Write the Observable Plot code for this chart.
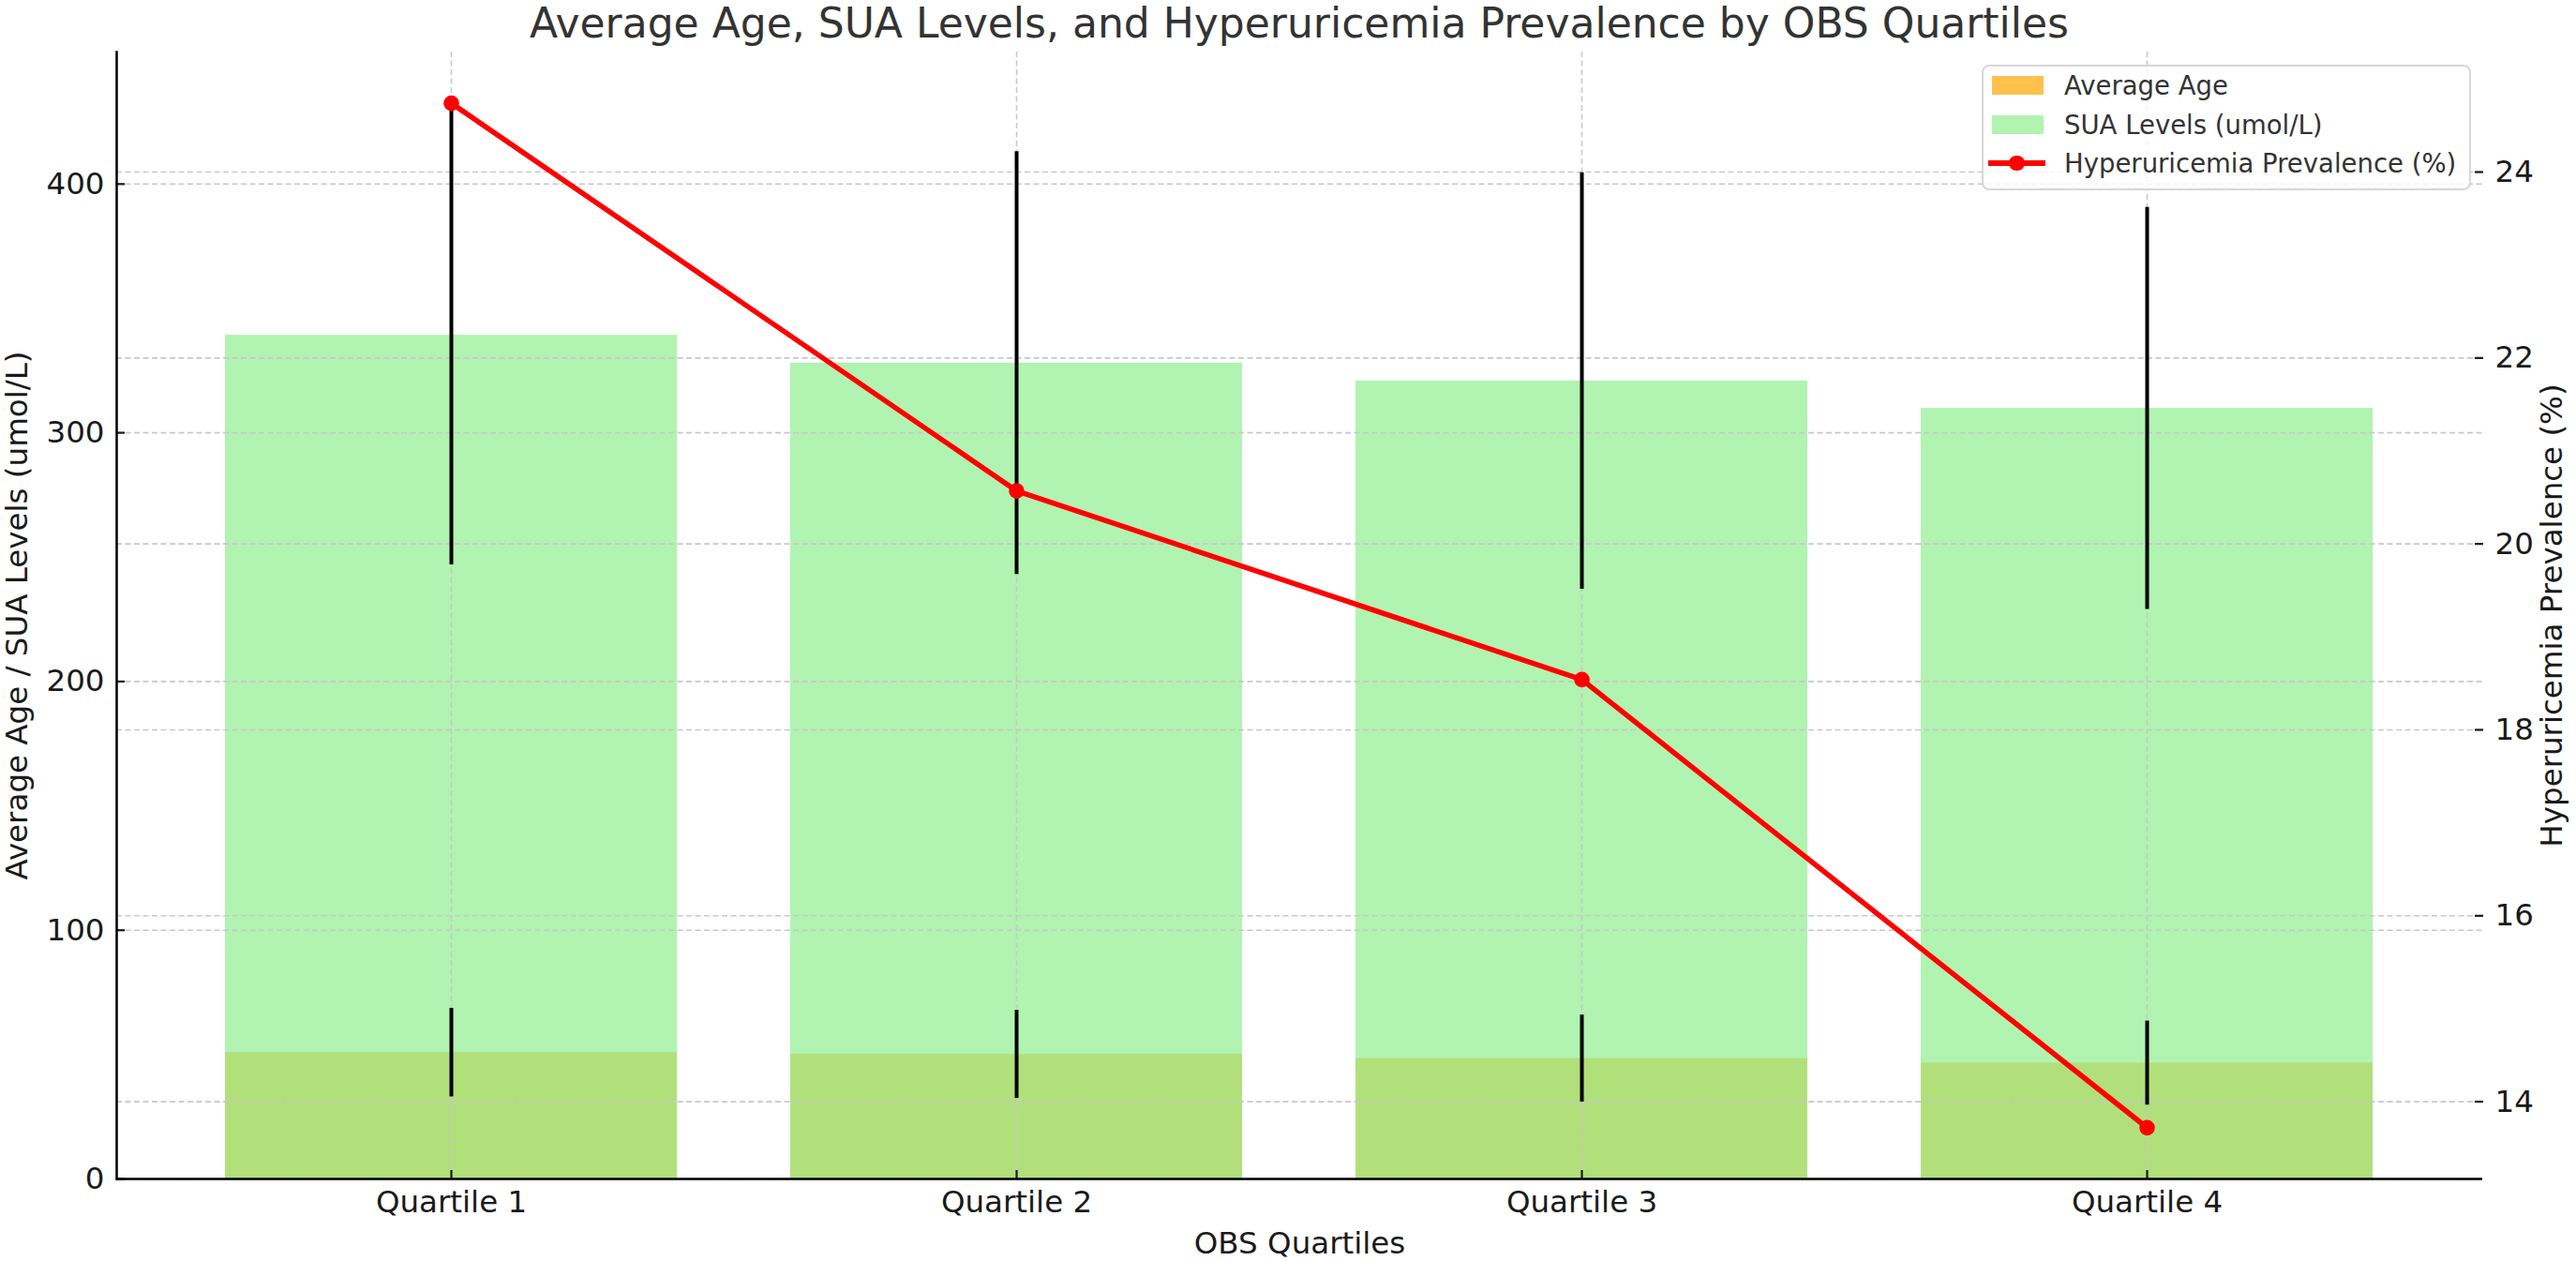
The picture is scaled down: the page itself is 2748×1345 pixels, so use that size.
<!DOCTYPE html>
<html>
<head>
<meta charset="utf-8">
<script src="https://cdn.jsdelivr.net/npm/d3@7"></script>
<script src="https://cdn.jsdelivr.net/npm/@observablehq/plot@0.6"></script>
<style>
  html, body { margin: 0; padding: 0; background: #fff; }
  body { font-family: "DejaVu Sans", sans-serif; }
  #wrap { position: relative; width: 2748px; height: 1345px; overflow: hidden; }
  #title { box-sizing: border-box; width: 2748px; height: 50px; line-height: 50px; padding-left: 24px;
           font-size: 44px; color: #333; text-align: center; white-space: nowrap; }
  #chart svg { display: block; }
  #legend { position: absolute; left: 2114px; top: 69px; width: 522px; height: 134px; box-sizing: border-box;
            border: 2px solid #d6d6d6; border-radius: 8px; background: rgba(255,255,255,0.8); }
  .row { position: absolute; left: 0; width: 100%; height: 42px; }
  .lab { position: absolute; left: 86px; top: 0; height: 42px; line-height: 42px; font-size: 27.5px; color: #333; white-space: nowrap; }
  .sw { position: absolute; }
</style>
</head>
<body>
<div id="wrap">
  <div id="title"></div>
  <div id="chart"></div>
  <div id="legend"></div>
</div>
<script>
// ---- data ----
const quartiles = ["Quartile 1", "Quartile 2", "Quartile 3", "Quartile 4"];
const avgAge = [50.8, 50.1, 48.4, 46.6];
const ageSD = [17.8, 17.7, 17.5, 16.9];
const suaLevels = [339.2, 328.0, 320.8, 309.8];
const suaSD = [92.3, 85.0, 83.7, 80.8];
const prevalence = [24.74, 20.57, 18.54, 13.72];
const leftTicks = [0, 100, 200, 300, 400];
const rightTicks = [14, 16, 18, 20, 22, 24];
const seriesNames = ["Average Age", "SUA Levels (umol/L)", "Hyperuricemia Prevalence (%)"];
const titleText = "Average Age, SUA Levels, and Hyperuricemia Prevalence by OBS Quartiles";
const xLabel = "OBS Quartiles";
const yLeftLabel = "Average Age / SUA Levels (umol/L)";
const yRightLabel = "Hyperuricemia Prevalence (%)";

const data = quartiles.map((q, i) => ({
  q, age: avgAge[i], ageSD: ageSD[i], sua: suaLevels[i], suaSD: suaSD[i], prev: prevalence[i]
}));

// scales like matplotlib autoscale (5% margins)
const leftMax = d3.max(data, d => d.sua + d.suaSD) * 1.05;
const [pmin, pmax] = d3.extent(prevalence);
const ppad = (pmax - pmin) * 0.05;
const toLeft = d3.scaleLinear().domain([pmin - ppad, pmax + ppad]).range([0, leftMax]);

document.getElementById("title").textContent = titleText;

const W = 2748, H = 1295;
const fs = 32.5;
const grid = { stroke: "#c8c8c8", strokeOpacity: 1, strokeWidth: 1.6, strokeDasharray: "6,3.5" };

const chart = Plot.plot({
  width: W, height: H,
  marginLeft: 124, marginRight: 100, marginTop: 5, marginBottom: 88,
  style: { fontFamily: "DejaVu Sans", fontSize: fs + "px", color: "#1a1a1a", background: "#fff", overflow: "visible" },
  x: { type: "band", domain: quartiles, paddingInner: 0.2, paddingOuter: 0.19, label: null },
  y: { domain: [0, leftMax], label: null },
  marks: [
    Plot.barY(data, { x: "q", y: "age", fill: "orange", fillOpacity: 0.7 }),
    Plot.barY(data, { x: "q", y: "sua", fill: "lightgreen", fillOpacity: 0.7 }),
    Plot.gridY(leftTicks, grid),
    Plot.gridY(rightTicks.map(t => toLeft(t)), grid),
    Plot.gridX(quartiles, grid),
    Plot.ruleX(data, { x: "q", y1: d => d.age - d.ageSD, y2: d => d.age + d.ageSD, stroke: "black", strokeWidth: 4 }),
    Plot.ruleX(data, { x: "q", y1: d => d.sua - d.suaSD, y2: d => d.sua + d.suaSD, stroke: "black", strokeWidth: 4 }),
    Plot.line(data, { x: "q", y: d => toLeft(d.prev), stroke: "red", strokeWidth: 5.5 }),
    Plot.dot(data, { x: "q", y: d => toLeft(d.prev), fill: "red", r: 8.3 }),
    Plot.axisY(leftTicks, { anchor: "left", tickSize: 9, dx: 9, tickPadding: 13, label: null, fontSize: fs, strokeWidth: 2.2 }),
    Plot.axisY(rightTicks.map(t => toLeft(t)), { anchor: "right", tickSize: 9, dx: -9, tickPadding: 13, label: null, fontSize: fs, strokeWidth: 2.2,
      tickFormat: d => String(Math.round(toLeft.invert(d))) }),
    Plot.axisX({ anchor: "bottom", tickSize: 9, dy: -9, tickPadding: 12, label: null, fontSize: fs, strokeWidth: 2.2 }),
    Plot.ruleY([0], { stroke: "#000", strokeWidth: 2.5 }),
    Plot.frame({ anchor: "left", stroke: "#000", strokeWidth: 2.5 }),
    Plot.text([yLeftLabel], { frameAnchor: "left", rotate: -90, dx: -105.5, textAnchor: "middle", lineAnchor: "middle", fontSize: fs }),
    Plot.text([yRightLabel], { frameAnchor: "right", rotate: -90, dx: 74, textAnchor: "middle", lineAnchor: "middle", fontSize: fs }),
    Plot.text([xLabel], { frameAnchor: "bottom", dy: 56, textAnchor: "middle", lineAnchor: "top", fontSize: fs })
  ]
});
document.getElementById("chart").appendChild(chart);

// ---- legend ----
const legend = document.getElementById("legend");
const rowTops = [-1, 41, 82];
seriesNames.forEach((name, i) => {
  const row = document.createElement("div");
  row.className = "row";
  row.style.top = rowTops[i] + "px";
  if (i < 2) {
    const sw = document.createElement("div");
    sw.className = "sw";
    sw.style.left = "8.5px"; sw.style.top = "11px"; sw.style.width = "55px"; sw.style.height = "20px";
    sw.style.background = i === 0 ? "orange" : "lightgreen";
    sw.style.opacity = "0.7";
    row.appendChild(sw);
  } else {
    const ln = document.createElement("div");
    ln.className = "sw";
    ln.style.left = "5px"; ln.style.top = "18.25px"; ln.style.width = "61px"; ln.style.height = "5.5px";
    ln.style.background = "red";
    row.appendChild(ln);
    const dt = document.createElement("div");
    dt.className = "sw";
    dt.style.left = (35.5 - 8.3) + "px"; dt.style.top = (21 - 8.3) + "px";
    dt.style.width = "16.6px"; dt.style.height = "16.6px"; dt.style.borderRadius = "50%";
    dt.style.background = "red";
    row.appendChild(dt);
  }
  const lab = document.createElement("div");
  lab.className = "lab";
  lab.textContent = name;
  row.appendChild(lab);
  legend.appendChild(row);
});
</script>
</body>
</html>
